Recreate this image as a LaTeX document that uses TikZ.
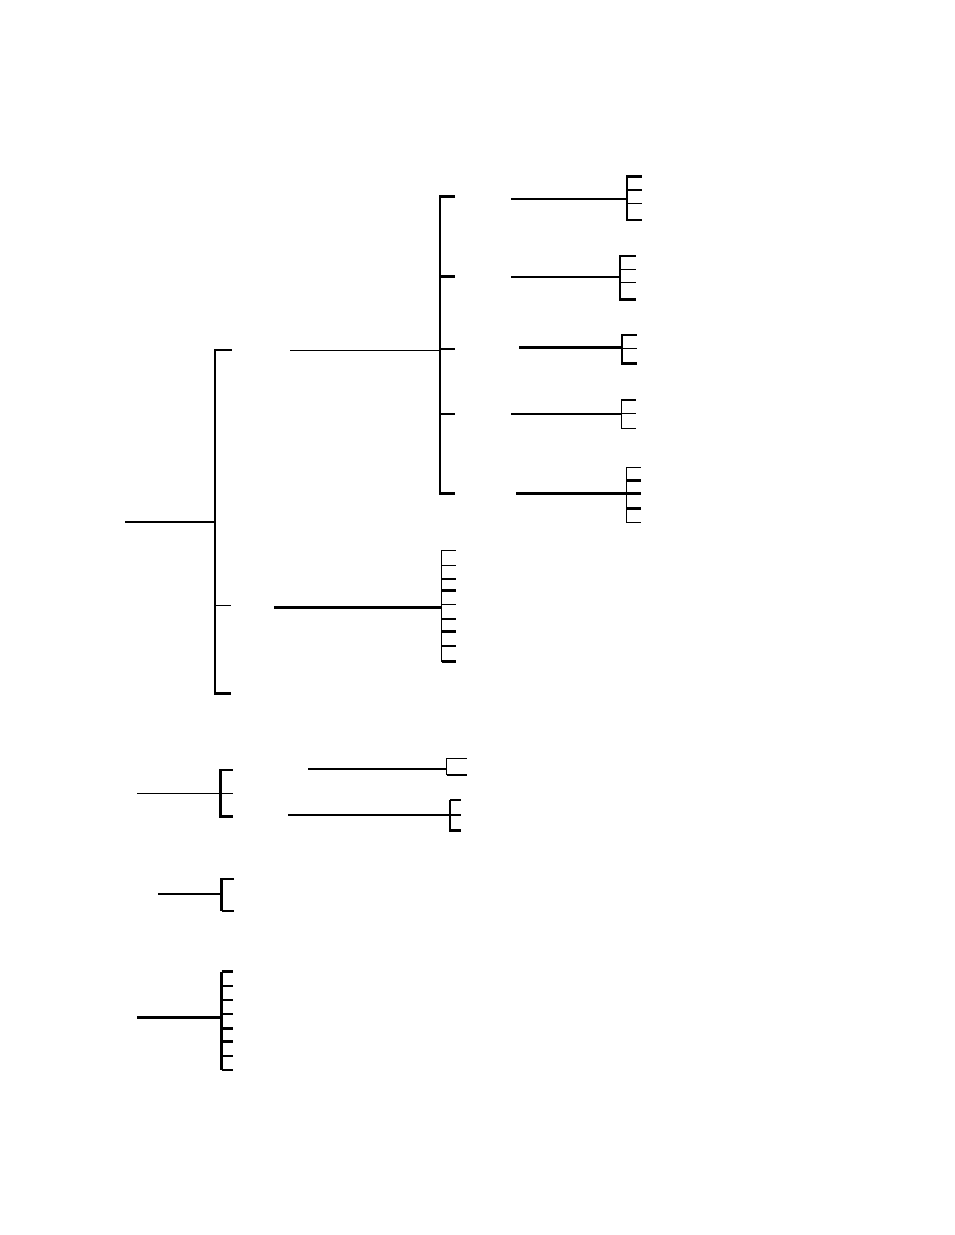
\documentclass[tikz,border=0pt]{standalone}
\begin{document}
\begin{tikzpicture}[x=0.75pt,y=-0.75pt,
  thk/.style={line width=1.9pt},
  thn/.style={line width=0.8pt},
  mid/.style={line width=1.1pt}]
\useasboundingbox (0,0) rectangle (954,1235);
% ---------- main tree ----------
\draw[thk] (125,522) -- (215,522);
\draw[thk] (231.7,350) -- (215,350) -- (215,693.3) -- (231,693.3);
\draw[thn] (215,605.3) -- (231,605.3);
\draw[thn] (290,350.7) -- (440,350.7);
\draw[thk] (274,607.7) -- (441.7,607.7);
% second-level bracket
\draw[thk] (455,196.7) -- (440,196.7) -- (440,493.3) -- (455,493.3);
\foreach \y in {276.7,349,414} \draw[thk] (440,\y) -- (455,\y);
% connecting lines
\draw[thk] (511,199) -- (627,199);
\draw[thk] (511,277) -- (620,277);
\draw[thk] (519,347.7) -- (622,347.7);
\draw[thk] (511,414) -- (621.7,414);
\draw[thk] (516,493.7) -- (626.7,493.7);
% bracket A
\draw[thk] (641.7,176.7) -- (627,176.7) -- (627,220) -- (641.7,220);
\foreach \y in {190,203.3} \draw[thn] (627,\y) -- (641.7,\y);
% bracket B
\draw[thk] (635.7,256) -- (620,256) -- (620,299.3) -- (635.7,299.3);
\foreach \y in {269.3,282.7} \draw[thn] (620,\y) -- (635.7,\y);
% bracket C
\draw[thk] (636.7,335) -- (622,335) -- (622,363.3) -- (636.7,363.3);
\draw[thn] (622,348.3) -- (636.7,348.3);
% bracket D
\draw[mid] (635.7,400) -- (621.7,400) -- (621.7,428.3) -- (635.7,428.3);
\draw[thn] (621.7,413.3) -- (635.7,413.3);
% bracket E
\draw[thn] (640.7,467.3) -- (626.7,467.3) -- (626.7,522.7) -- (640.7,522.7);
\foreach \y in {480.7,493.7,508.3} \draw[thk] (626.7,\y) -- (640.7,\y);
% bracket F
\draw[mid] (455.7,550.7) -- (441.7,550.7) -- (441.7,661.7);
\foreach \y in {565.7,604.3} \draw[thn] (441.7,\y) -- (455.7,\y);
\foreach \y in {579,590.7,619,631.7,646,661.7} \draw[thk] (441.7,\y) -- (455.7,\y);
% ---------- second tree ----------
\draw[thn] (137.3,793.3) -- (220.7,793.3);
\draw[thk] (232.7,770) -- (220.7,770) -- (220.7,816.7) -- (232.7,816.7);
\draw[thn] (220.7,793.3) -- (232.7,793.3);
\draw[thk] (308.3,769) -- (446.7,769);
\draw[thn] (466.7,758.3) -- (446.7,758.3) -- (446.7,775);
\draw[thk] (446.7,775) -- (466.7,775);
\draw[thk] (288.3,815) -- (450,815);
\draw[thk] (460.7,830.7) -- (450,830.7) -- (450,800);
\draw[thn] (450,800) -- (460.7,800);
\draw[thk] (450,815) -- (460.7,815);
% ---------- third tree ----------
\draw[thn] (158.3,894) -- (221.7,894);
\draw[thk] (234,879) -- (221.7,879) -- (221.7,911);
\draw[thn] (221.7,911) -- (234,911);
% ---------- fourth tree ----------
\draw[thk] (137.3,1017.3) -- (221.7,1017.3);
\draw[thk] (221.7,971.7) -- (221.7,1070);
\foreach \y in {971.7,986,1000,1014,1028.3,1041.7,1056,1070} \draw[thk] (221.7,\y) -- (233.3,\y);
\end{tikzpicture}
\end{document}
